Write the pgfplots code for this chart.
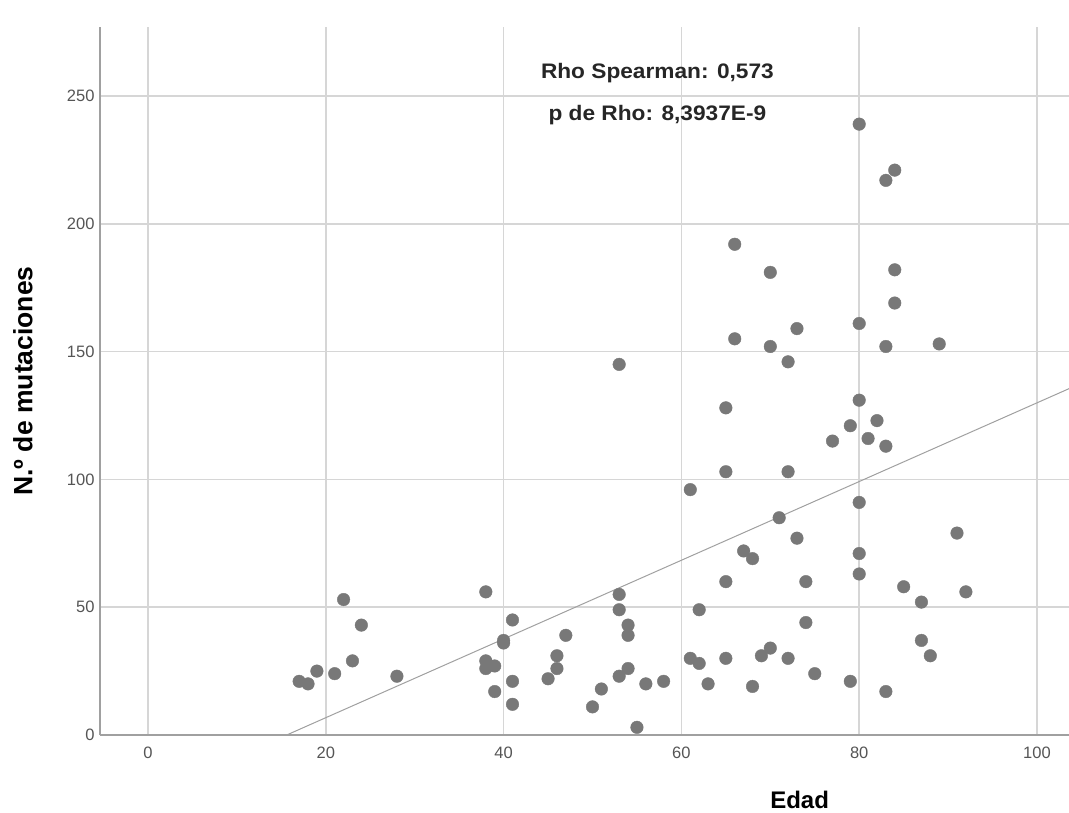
\documentclass[border=0pt]{standalone}
\usepackage{pgfplots}
\pgfplotsset{compat=1.18}
\usepackage{fontspec}
\usepackage{graphicx}
\setmainfont{Liberation Sans}
\definecolor{ptgray}{HTML}{787878}
\definecolor{gridgray}{HTML}{D6D6D6}
\definecolor{axgray}{HTML}{A0A0A0}
\definecolor{tickgray}{HTML}{555555}
\begin{document}
\begin{tikzpicture}
\begin{axis}[
  scale only axis,
  width=969pt, height=708pt,
  xmin=-5.4, xmax=103.6,
  ymin=0, ymax=277,
  axis x line=bottom, axis y line=left,
  axis line style={axgray, line width=1.3pt, -},
  xtick={0,20,40,60,80,100},
  ytick={0,50,100,150,200,250},
  major tick length=0pt,
  grid=major,
  major grid style={gridgray, line width=1.6pt},
  /pgf/number format/assume math mode=true,
  ticklabel style={font=\fontsize{16.5}{20}\selectfont, text=tickgray},
  xticklabel style={yshift=-8pt},
  yticklabel style={xshift=-2pt},
  clip=false,
]
\addplot[axgray, line width=1pt] coordinates {(15.6,0) (103.6,135.5)};
\addplot[only marks, mark=*, mark size=6.3pt, mark options={fill=ptgray, draw=ptgray}] coordinates {
(17,21) (18,20) (19,25) (21,24) (22,53) (24,43) (23,29) (28,23)
(38,56) (38,29) (38,26) (39,27) (39,17) (40,37) (40,36) (41,45) (41,21) (41,12)
(45,22) (46,31) (46,26) (47,39) (50,11) (51,18) (53,55) (53,49) (54,43) (54,39)
(54,26) (53,23) (55,3) (56,20) (58,21) (61,30) (62,28) (62,49) (65,60) (65,30)
(63,20) (67,72) (68,69) (74,60) (80,71) (80,63) (85,58) (87,52) (92,56) (74,44)
(87,37) (88,31) (68,19) (69,31) (70,34) (72,30) (75,24) (79,21) (83,17)
(84,169) (80,161) (73,159) (66,155) (70,152) (83,152) (89,153) (72,146) (53,145)
(65,128) (80,131) (82,123) (79,121) (77,115) (81,116) (83,113) (65,103) (72,103)
(61,96) (80,91) (71,85) (73,77) (91,79) (80,239) (84,221) (83,217) (70,181)
(84,182) (66,192)
};
\node[text=black!85, font=\fontsize{21}{24}\selectfont\bfseries] at (axis cs:57.3,258.8) {\scalebox{1.08}[1]{Rho Spearman: 0,573}};
\node[text=black!85, font=\fontsize{21}{24}\selectfont\bfseries] at (axis cs:57.3,242.6) {\scalebox{1.08}[1]{p de Rho: 8,3937E-9}};
\node[font=\fontsize{26.5}{30}\selectfont\bfseries, rotate=90] at ([xshift=-77pt]rel axis cs:0,0.5) {N.º de mutaciones};
\node[font=\fontsize{24}{28}\selectfont\bfseries] at ([yshift=-65pt]axis cs:73.3,0) {Edad};
\coordinate (ll) at (rel axis cs:0,0);
\coordinate (ur) at (rel axis cs:1,1);
\end{axis}
\pgfresetboundingbox
\path[use as bounding box] ([shift={(-100pt,-77pt)}]ll) rectangle ([shift={(0pt,27pt)}]ur);
\end{tikzpicture}
\end{document}
